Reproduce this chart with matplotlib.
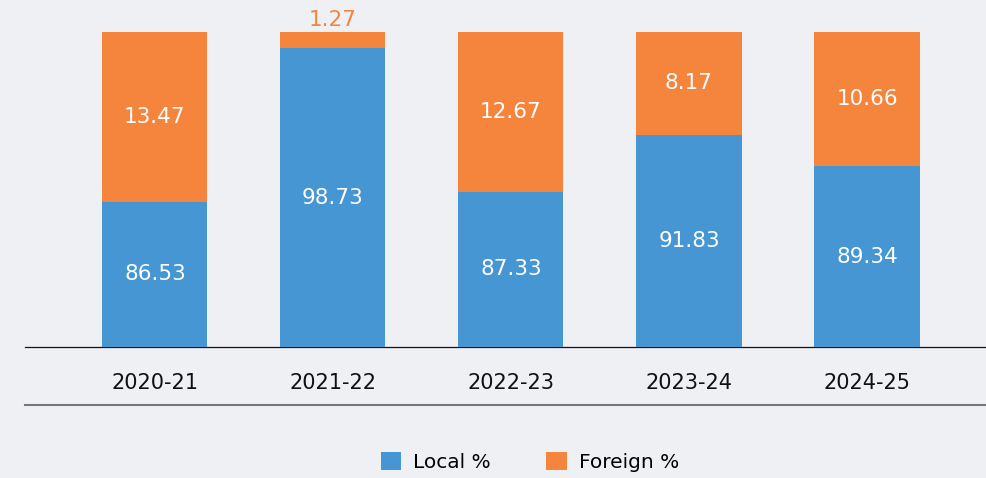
import matplotlib
matplotlib.use("Agg")
import matplotlib.pyplot as plt
from matplotlib.lines import Line2D
from matplotlib.patches import Patch
import numpy as np

years = ["2020-21", "2021-22", "2022-23", "2023-24", "2024-25"]
local = [86.53, 98.73, 87.33, 91.83, 89.34]
foreign = [13.47, 1.27, 12.67, 8.17, 10.66]

BLUE = "#4596d3"
ORANGE = "#f5843d"
BG = "#eff0f4"

plt.rcParams['font.family'] = ['DejaVu Sans']

fig = plt.figure(figsize=(9.87, 4.78), dpi=100, facecolor=BG)
ax = fig.add_axes([0.0253, 0.274, 0.9747, 0.659])
ax.set_facecolor(BG)

x = np.arange(len(years))
w = 0.59
ax.bar(x, local, width=w, color=BLUE, zorder=3)
ax.bar(x, foreign, width=w, bottom=local, color=ORANGE, zorder=3)

ymin = 75
ax.set_ylim(ymin, 100)
ax.set_xlim(-0.73, 4.674)

for i, (l, f) in enumerate(zip(local, foreign)):
    ax.text(i, (ymin + l) / 2, f"{l:.2f}", ha="center", va="center",
            color="white", fontsize=15.5, zorder=4)
    if f < 4:
        ax.text(i, 100 + 0.95, f"{f:.2f}", ha="center", va="center",
                color=ORANGE, fontsize=15.5, zorder=4, clip_on=False)
    else:
        ax.text(i, l + f / 2, f"{f:.2f}", ha="center", va="center",
                color="white", fontsize=15.5, zorder=4)

for s in ["top", "right", "left"]:
    ax.spines[s].set_visible(False)
ax.spines["bottom"].set_color("#111111")
ax.spines["bottom"].set_linewidth(0.9)
ax.spines["bottom"].set_zorder(2)
ax.set_yticks([])
ax.set_xticks(x)
ax.set_xticklabels(years, fontsize=15, color="#111111")
ax.tick_params(axis="x", length=0, pad=19)

fig.add_artist(Line2D([0.0253, 1.0], [0.1527, 0.1527], transform=fig.transFigure,
                      color="#77777b", linewidth=1.5))

handles = [Patch(facecolor=BLUE, label="Local %"), Patch(facecolor=ORANGE, label="Foreign %")]
fig.legend(handles=handles, loc="center", bbox_to_anchor=(0.537, 0.034), ncol=2,
           frameon=False, fontsize=14.5, handlelength=1.0, handleheight=1.0,
           handletextpad=0.6, columnspacing=2.75)

fig.savefig("out.png", dpi=100, facecolor=BG)
